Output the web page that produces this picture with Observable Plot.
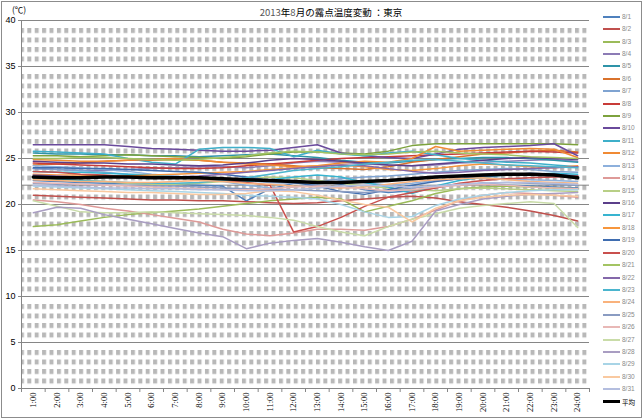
<!DOCTYPE html>
<html><head><meta charset="utf-8">
<script src="https://cdn.jsdelivr.net/npm/d3@7"></script>
<script src="https://cdn.jsdelivr.net/npm/@observablehq/plot@0.6"></script>
<style>
body{margin:0;background:#fff;}
#wrap{position:relative;width:644px;height:420px;overflow:hidden;background:#fff;}
#border{position:absolute;left:1px;top:1px;width:641px;height:417px;border:1px solid #8c8c8c;box-sizing:border-box;pointer-events:none;}
#chart{position:absolute;left:0;top:0;}
#title{position:absolute;top:6px;left:331px;transform:translateX(-50%);white-space:nowrap;font:9.5px "Noto Sans CJK JP",sans-serif;color:#000;line-height:12px;}
#title .n{color:#555;}
#unit{position:absolute;left:12px;top:3px;font:8.5px "Noto Sans CJK JP",sans-serif;color:#000;}
.lg{position:absolute;left:603px;height:12px;}
.lg .sw{position:absolute;left:0;top:5px;width:17px;height:2px;}
.lg .tx{position:absolute;left:19px;top:0;font:6.5px "Liberation Sans",sans-serif;color:#8a8a8a;line-height:12px;white-space:nowrap;}
</style>
</head><body>
<div id="wrap">
  <div id="chart"></div>
  <div id="title"><span class="n">2013</span>年<span class="n">8</span>月の露点温度変動 ：東京</div>
  <div id="unit">(℃)</div>
  <div id="legend"></div>
  <div id="border"></div>
</div>
<script>
const hours = [1,2,3,4,5,6,7,8,9,10,11,12,13,14,15,16,17,18,19,20,21,22,23,24];
const days = ["8/1","8/2","8/3","8/4","8/5","8/6","8/7","8/8","8/9","8/10","8/11","8/12","8/13","8/14","8/15","8/16","8/17","8/18","8/19","8/20","8/21","8/22","8/23","8/24","8/25","8/26","8/27","8/28","8/29","8/30","8/31"];
const avgLabel = "平均";
const yTicks = [0,5,10,15,20,25,30,35,40];
const refLevel = [22.1];

const d01 = [22.6,22.5,22.4,22.3,22.3,22.2,22.2,22.1,22.0,20.4,21.7,22.3,22.5,22.2,21.6,21.3,21.5,21.9,22.2,22.3,22.1,22.0,21.9,21.8];
const d02 = [21.0,20.9,20.8,20.7,20.6,20.5,20.5,20.4,20.4,20.3,20.2,20.1,20.2,20.4,20.6,20.8,20.9,20.7,20.3,20.0,19.7,19.3,18.8,18.2];
const d03 = [17.6,17.8,18.2,18.6,18.9,19.1,19.3,19.5,19.8,20.1,20.4,20.6,20.8,20.6,19.2,19.8,20.4,21.2,21.7,21.9,22.0,21.9,21.8,21.7];
const d04 = [23.9,23.8,23.7,23.7,23.8,23.9,24.0,24.1,24.1,24.0,24.2,24.5,24.7,24.6,24.4,24.3,24.2,24.3,24.5,24.6,24.7,24.8,24.9,24.7];
const d05 = [25.6,25.5,25.5,25.4,25.4,25.3,25.3,25.2,25.3,25.4,25.5,25.3,25.1,24.8,24.6,24.5,24.7,24.9,25.0,25.1,25.1,25.0,24.8,24.6];
const d06 = [24.3,24.4,24.5,24.7,24.8,24.8,24.9,24.8,24.6,24.5,24.4,24.2,24.0,23.9,23.8,24.1,24.6,24.9,25.2,25.5,25.6,25.8,25.9,25.7];
const d07 = [23.9,23.8,23.7,23.5,23.3,23.2,23.0,22.9,22.7,22.6,22.4,22.3,22.5,22.8,23.0,23.1,23.3,23.5,23.7,23.8,23.9,23.8,23.6,23.5];
const d08 = [24.5,24.4,24.3,24.2,24.1,24.0,23.9,23.9,24.0,24.2,24.4,24.6,24.8,25.0,25.1,25.2,25.3,25.4,25.5,25.6,25.7,25.8,25.7,25.6];
const d09 = [25.3,25.3,25.2,25.3,25.4,25.3,25.2,25.1,25.0,25.2,25.5,25.7,25.7,25.6,25.5,25.8,26.4,26.6,26.6,26.6,26.6,26.6,26.6,26.5];
const d10 = [26.5,26.5,26.5,26.5,26.3,26.1,26.0,25.9,25.8,25.8,25.9,26.2,26.5,25.6,25.3,25.1,25.0,25.5,26.0,26.2,26.3,26.4,26.6,25.3];
const d11 = [25.8,25.7,25.6,25.5,25.0,24.6,24.4,26.0,26.2,26.2,26.1,25.2,25.9,25.5,25.3,25.6,25.8,25.4,25.0,24.8,24.6,24.5,24.3,24.1];
const d12 = [24.9,24.8,24.7,24.7,24.8,24.9,25.0,24.8,24.6,24.4,24.3,24.1,24.2,24.5,24.7,24.6,25.0,26.3,25.8,25.9,26.0,26.1,26.0,25.1];
const d13 = [24.2,24.1,24.0,23.8,23.6,23.3,23.1,22.8,22.5,22.1,21.8,21.9,22.2,22.6,22.4,22.1,22.3,22.6,22.8,22.9,22.8,22.7,22.6,22.5];
const d14 = [20.5,20.3,20.0,19.6,19.3,18.9,18.5,18.1,17.3,16.8,16.6,16.9,17.3,17.3,17.2,17.6,18.4,19.4,20.4,21.0,21.3,21.2,21.0,20.8];
const d15 = [22.8,22.7,22.6,22.5,22.3,22.2,22.2,22.3,22.5,22.8,23.0,22.9,22.6,22.3,22.0,21.8,21.6,21.5,21.7,21.8,21.7,21.6,21.5,21.4];
const d16 = [24.7,24.6,24.5,24.5,24.4,24.4,24.3,24.2,24.3,24.5,24.8,25.0,24.9,24.7,24.5,24.3,24.2,24.4,24.6,24.8,25.0,25.1,25.0,24.9];
const d17 = [23.6,23.5,23.5,23.4,23.3,23.2,23.0,22.8,22.6,22.5,22.7,23.0,23.2,23.0,22.4,21.9,21.2,22.0,22.6,23.0,23.2,23.3,23.4,23.3];
const d18 = [23.3,23.2,23.2,23.1,23.1,23.2,23.3,23.4,23.5,23.6,23.8,24.0,24.2,24.3,24.1,23.8,23.7,23.9,24.2,24.4,24.3,24.1,24.0,24.2];
const d19 = [24.0,24.0,23.9,23.9,23.8,23.7,23.6,23.5,23.3,23.0,22.6,22.4,22.0,21.4,21.1,21.6,22.1,22.5,22.8,23.1,23.2,23.4,23.3,23.1];
const d20 = [23.6,23.5,23.3,23.2,23.0,22.9,22.9,22.8,22.6,22.4,22.1,17.0,17.6,18.6,19.8,20.8,21.3,21.8,22.3,22.6,22.8,22.9,23.0,23.1];
const d21 = [25.0,25.0,25.1,25.1,25.0,24.9,24.8,24.9,25.1,25.3,25.6,25.8,25.7,25.5,25.4,25.5,25.7,25.8,25.6,25.5,25.4,25.2,25.1,25.0];
const d22 = [23.2,23.1,23.0,23.0,22.9,22.9,23.0,23.1,23.3,23.5,23.7,23.9,24.1,24.3,24.2,23.9,23.6,23.4,23.5,23.7,23.8,23.9,24.0,24.1];
const d23 = [22.9,22.8,22.6,22.5,22.4,22.3,22.3,22.4,22.6,22.9,23.3,23.7,23.9,24.1,24.4,24.6,24.8,24.9,24.7,24.5,24.3,24.2,24.1,24.0];
const d24 = [22.7,22.6,22.5,22.5,22.4,22.4,22.5,22.6,22.5,22.3,22.2,22.0,21.9,21.8,21.9,22.2,22.5,22.7,22.8,22.9,22.7,22.5,22.4,22.3];
const d25 = [22.3,22.2,22.2,22.1,22.1,22.0,22.0,21.9,21.8,21.7,21.6,21.6,21.5,21.4,21.3,21.5,21.8,22.0,22.1,22.3,22.4,22.3,22.2,22.1];
const d26 = [22.4,22.3,22.2,22.1,22.0,21.9,21.8,21.7,21.6,21.6,21.7,21.9,22.0,21.9,21.7,21.5,21.6,21.9,22.1,22.2,22.1,21.9,21.8,21.7];
const d27 = [20.4,19.8,19.2,19.1,19.1,19.2,19.1,19.0,18.9,18.8,18.6,18.3,17.6,17.0,16.6,17.6,18.4,19.0,19.6,19.9,20.1,20.3,20.1,17.5];
const d28 = [19.1,19.7,19.6,18.9,18.4,17.9,17.4,16.9,16.5,15.2,15.8,16.1,16.3,15.9,15.4,15.0,16.0,19.3,20.0,20.6,20.9,21.1,21.2,21.3];
const d29 = [22.0,21.9,21.8,21.7,21.6,21.5,21.4,21.3,21.2,21.0,20.9,20.8,20.6,20.0,19.2,18.6,18.7,19.9,20.6,21.0,21.3,21.5,21.6,21.6];
const d30 = [21.7,21.6,21.5,21.4,21.3,21.3,21.2,21.1,21.1,21.2,21.5,21.4,21.0,20.5,20.0,19.7,18.1,19.6,20.4,20.8,21.0,21.1,21.0,20.9];
const d31 = [22.1,22.0,21.9,21.8,21.8,21.7,21.7,21.6,21.6,21.5,21.5,21.6,21.8,22.0,22.1,22.0,21.9,22.0,22.2,22.3,22.4,22.4,22.3,22.2];
const avg = [23.0,22.9,22.9,23.0,23.0,22.9,22.9,22.9,22.8,22.7,22.6,22.5,22.4,22.4,22.5,22.6,22.8,23.0,23.1,23.2,23.3,23.3,23.2,22.9];

const seriesColors = ["#4F81BD","#C0504D","#9BBB59","#8C7BB5","#2E93A8","#D9722C","#7FA3D1","#C83B38","#7DA23D","#6A4A9C","#3EAFC9","#F08A34","#8DB0DC","#DE9A98","#B8CF86","#5B3F8A","#38B4D0","#F7963C","#3F6DB0","#C9504D","#A3C463","#8468AA","#4BB5CE","#F9B27C","#8A9CC2","#E8B8B6","#C9DCA8","#A99DC2","#A8D4E6","#F9C9A0","#B4BEDF"];

const allSeries = [d01,d02,d03,d04,d05,d06,d07,d08,d09,d10,d11,d12,d13,d14,d15,d16,d17,d18,d19,d20,d21,d22,d23,d24,d25,d26,d27,d28,d29,d30,d31];
const rows = allSeries.flatMap((s, i) => s.map((v, j) => ({hour: hours[j], value: v, day: days[i]})));
const avgRows = avg.map((v, j) => ({hour: hours[j], value: v}));
const bands = yTicks.slice(0, -1).map((t, i) => ({lo: t, hi: t + (yTicks[i + 1] - t) * 0.826}));
const boundaries = [0, ...hours].map(h => h + 0.5);

function patternDefs() {
  const ns = "http://www.w3.org/2000/svg";
  const defs = document.createElementNS(ns, "defs");
  const pat = document.createElementNS(ns, "pattern");
  pat.setAttribute("id", "pat");
  pat.setAttribute("patternUnits", "objectBoundingBox");
  pat.setAttribute("x", "0.0111");
  pat.setAttribute("y", "0");
  pat.setAttribute("width", "0.01303");
  pat.setAttribute("height", "0.25");
  const r = document.createElementNS(ns, "rect");
  r.setAttribute("x", "0"); r.setAttribute("y", "0");
  r.setAttribute("width", "4"); r.setAttribute("height", "5");
  r.setAttribute("fill", "#b8b8b8");
  pat.appendChild(r);
  defs.appendChild(pat);
  return defs;
}

const chart = Plot.plot({
  width: 600, height: 418,
  marginLeft: 21, marginRight: 11, marginTop: 20, marginBottom: 30,
  x: {domain: [0.5, 24.5]},
  y: {domain: [0, 40]},
  color: {domain: days, range: seriesColors},
  style: {fontFamily: "Liberation Sans", fontSize: "9px", background: "transparent", color: "#000", overflow: "visible"},
  marks: [
    patternDefs,
    Plot.rect(bands, {y1: "lo", y2: "hi", fill: "url(#pat)"}),
    Plot.ruleY(yTicks, {stroke: "#868686", strokeWidth: 1}),
    Plot.ruleY(refLevel, {stroke: "#868686", strokeWidth: 1}),
    Plot.ruleX([0.5], {stroke: "#868686"}),
    Plot.line(rows, {x: "hour", y: "value", z: "day", stroke: "day", strokeWidth: 1.5}),
    Plot.line(avgRows, {x: "hour", y: "value", stroke: "#000", strokeWidth: 3.5}),
    Plot.axisY({ticks: yTicks, tickSize: 3, tickPadding: 3, label: null, stroke: "#868686", fontSize: 9}),
    Plot.axisX({ticks: boundaries, tickSize: 4, tickFormat: () => "", label: null, stroke: "#868686"}),
    Plot.axisX({ticks: hours, tickSize: 0, tickPadding: 4, tickRotate: -90, tickFormat: d => d + ":00", label: null, fontFamily: "Liberation Serif", fontSize: 8.5})
  ]
});
document.getElementById("chart").appendChild(chart);

const legend = document.getElementById("legend");
const entries = days.map((d, i) => ({label: d, color: seriesColors[i], w: 2, avg: false}));
entries.push({label: avgLabel, color: "#000", w: 3, avg: true});
entries.forEach((e, i) => {
  const row = document.createElement("div");
  row.className = "lg";
  row.style.top = (10.7 + i * 12.42) + "px";
  const sw = document.createElement("div");
  sw.className = "sw";
  sw.style.background = e.color;
  sw.style.height = e.w + "px";
  sw.style.top = (6 - e.w / 2) + "px";
  const tx = document.createElement("div");
  tx.className = "tx";
  tx.textContent = e.label;
  if (e.avg) { tx.style.color = "#000"; tx.style.fontFamily = "Noto Sans CJK JP"; }
  row.appendChild(sw); row.appendChild(tx);
  legend.appendChild(row);
});
</script>
</body></html>
